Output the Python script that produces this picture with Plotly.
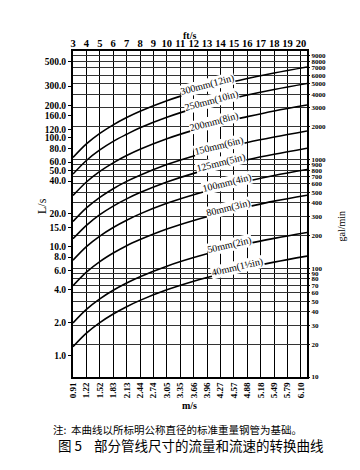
import numpy as np
import plotly.graph_objects as go

# ---------------- data ----------------
ft_s_ticks = [3, 4, 5, 6, 7, 8, 9, 10, 11, 12, 13, 14, 15, 16, 17, 18, 19, 20]
m_s_labels = ["0.91", "1.22", "1.52", "1.83", "2.13", "2.44", "2.74", "3.05", "3.35",
              "3.66", "3.96", "4.27", "4.57", "4.88", "5.18", "5.49", "5.79", "6.10"]
ls_ticks = [1, 2, 4, 6, 8, 10, 15, 20, 40, 50, 60, 80, 100, 120, 160, 200, 300, 500]
ls_labels = ["1.0", "2.0", "4.0", "6.0", "8.0", "10.0", "15.0", "20.0", "40.0", "50.0",
             "60.0", "80.0", "100.0", "120.0", "160.0", "200.0", "300.0", "500.0"]
gpm_ticks = [10, 20, 30, 40, 50, 60, 70, 80, 90, 100, 200, 300, 400, 500, 600, 700, 800,
             900, 1000, 2000, 3000, 4000, 5000, 6000, 7000, 8000, 9000]

velocity_fts = [3, 4, 5, 6, 7, 8, 10, 12, 14, 16, 18, 20.45]
pipe_names = ["300mm(12in)", "250mm(10in)", "200mm(8in)", "150mm(6in)", "125mm(5in)",
              "100mm(4in)", "80mm(3in)", "50mm(2in)", "40mm(1½in)"]
flow_12in = [66, 88, 110, 132, 154, 176, 220, 264, 308, 352, 396, 450]
flow_10in = [46.5, 62, 77.5, 93, 108, 124, 155, 186, 217, 248, 279, 317]
flow_8in = [29.5, 39.3, 49.2, 59, 68.8, 78.6, 98.3, 118, 138, 157, 177, 201]
flow_6in = [17, 22.7, 28.4, 34.1, 39.8, 45.4, 56.8, 68.2, 79.5, 90.9, 102, 116]
flow_5in = [11.8, 15.7, 19.7, 23.6, 27.5, 31.4, 39.3, 47.2, 55, 62.9, 70.7, 80.4]
flow_4in = [7.5, 10, 12.5, 15, 17.5, 20, 25, 30, 35, 40, 45.1, 51.2]
flow_3in = [4.36, 5.81, 7.27, 8.72, 10.2, 11.6, 14.5, 17.4, 20.3, 23.2, 26.2, 29.7]
flow_2in = [1.98, 2.64, 3.3, 3.96, 4.62, 5.28, 6.6, 7.92, 9.24, 10.6, 11.9, 13.5]
flow_1_5in = [1.2, 1.6, 2.0, 2.4, 2.8, 3.2, 4.0, 4.8, 5.6, 6.4, 7.2, 8.18]
flows = [flow_12in, flow_10in, flow_8in, flow_6in, flow_5in, flow_4in, flow_3in,
         flow_2in, flow_1_5in]

# label placement (style) along each curve
label_v = [13.0, 13.3, 13.5, 13.9, 14.0, 14.5, 14.6, 14.7, 15.3]
label_angle = [-15, -15, -15, -14, -14, -14, -14, -13, -13]

GPM_PER_LS = 15.85
SERIF = "Liberation Serif"
W, H = 360, 470
ML, MR, MT, MB = 65, 61, 43, 101
PW, PH = W - ML - MR, H - MT - MB


def px(xpix):
    return (xpix - ML) / PW


def py(ypix):
    return (H - MB - ypix) / PH


fig = go.Figure()
for name, q in zip(pipe_names, flows):
    fig.add_trace(go.Scatter(x=velocity_fts, y=q, mode="lines", name=name,
                             line=dict(color="black", width=1.6, shape="spline"),
                             showlegend=False, hoverinfo="skip"))

# invisible helper traces so the secondary axes exist
fig.add_trace(go.Scatter(x=[], y=[], xaxis="x2", yaxis="y", showlegend=False))
fig.add_trace(go.Scatter(x=[], y=[], xaxis="x", yaxis="y2", showlegend=False))

ymin, ymax = 10 / GPM_PER_LS, 10000 / GPM_PER_LS
xr = [3, 20.45]

fig.update_layout(
    width=W, height=H,
    margin=dict(l=ML, r=MR, t=MT, b=MB),
    paper_bgcolor="white", plot_bgcolor="white",
    showlegend=False,
    xaxis=dict(range=xr, tickvals=ft_s_ticks, ticktext=m_s_labels, tickangle=-90,
               tickfont=dict(family=SERIF, size=9, color="black", weight="bold"),
               showgrid=True, gridcolor="black", gridwidth=1.3,
               showline=True, linecolor="black", linewidth=2, mirror=True,
               ticks="", zeroline=False),
    xaxis2=dict(range=xr, overlaying="x", side="top", anchor="y",
                tickvals=ft_s_ticks, ticktext=[str(t) for t in ft_s_ticks],
                tickfont=dict(family=SERIF, size=10.5, color="black", weight="bold"),
                showgrid=False, showline=False, ticks="", ticklabelstandoff=1,
                zeroline=False),
    yaxis=dict(type="log", range=[np.log10(ymin), np.log10(ymax)],
               tickvals=ls_ticks, ticktext=ls_labels,
               tickfont=dict(family=SERIF, size=9.5, color="black", weight="bold"),
               showgrid=False, ticks="outside", ticklen=3, tickcolor="black",
               showline=True, linecolor="black", linewidth=2, mirror=True,
               zeroline=False),
    yaxis2=dict(type="log", range=[1, 4], overlaying="y", side="right", anchor="x",
                tickvals=gpm_ticks, ticktext=[str(t) for t in gpm_ticks],
                tickfont=dict(family=SERIF, size=7, color="black", weight="bold"),
                showgrid=True, gridcolor="#333333", gridwidth=1,
                ticks="outside", ticklen=2, tickcolor="black",
                showline=False, zeroline=False),
)

annotations = []
for name, q, v, ang in zip(pipe_names, flows, label_v, label_angle):
    qv = 10 ** np.interp(v, velocity_fts, np.log10(q))
    annotations.append(dict(x=v, y=np.log10(qv), xref="x", yref="y", text=name,
                            showarrow=False, textangle=ang, yshift=3,
                            font=dict(family=SERIF, size=10, color="black"),
                            bgcolor="white", borderpad=0))

# axis titles and caption
annotations += [
    dict(x=px(181), y=py(20), xref="paper", yref="paper", text="<b>ft/s</b>",
         showarrow=False, font=dict(family=SERIF, size=10, color="black")),
    dict(x=px(181), y=py(405), xref="paper", yref="paper", text="<b>m/s</b>",
         showarrow=False, font=dict(family=SERIF, size=10, color="black")),
    dict(x=px(25), y=py(198), xref="paper", yref="paper", text="L/s",
         textangle=-90, showarrow=False, font=dict(family=SERIF, size=12, color="black")),
    dict(x=px(340), y=py(218), xref="paper", yref="paper", text="gal/min",
         textangle=-90, showarrow=False, font=dict(family=SERIF, size=10, color="black")),
    dict(x=px(43), y=py(431), xref="paper", yref="paper", xanchor="left",
         text="注:  本曲线以所标明公称直径的标准重量钢管为基础。", showarrow=False,
         font=dict(family="Noto Sans CJK SC", size=10.5, color="black")),
    dict(x=px(48), y=py(449), xref="paper", yref="paper", xanchor="left",
         text="图 5    部分管线尺寸的流量和流速的转换曲线", showarrow=False,
         font=dict(family="Noto Sans CJK SC", size=13.5, color="black")),
]
fig.update_layout(annotations=annotations)

fig.write_html("out.html")
